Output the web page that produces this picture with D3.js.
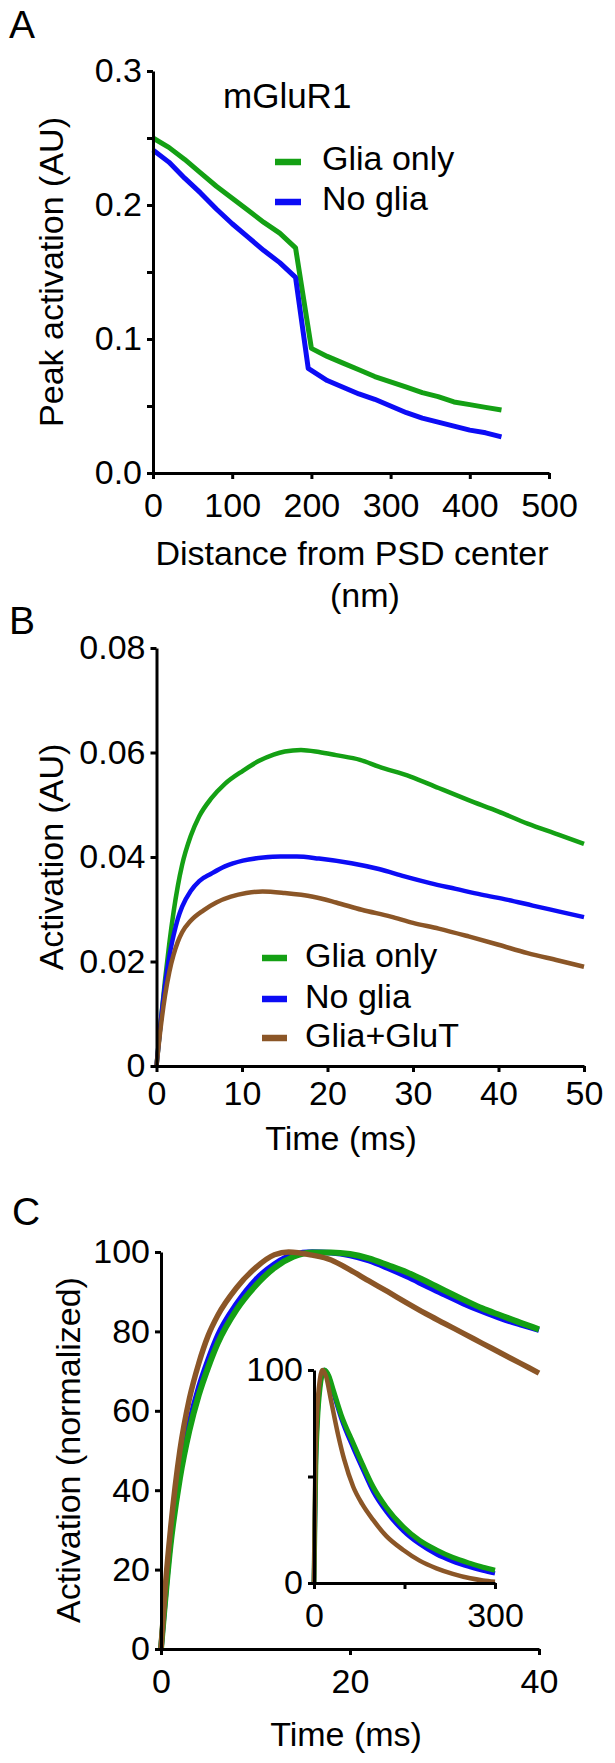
<!DOCTYPE html>
<html><head><meta charset="utf-8">
<script src="https://cdn.jsdelivr.net/npm/d3@7"></script>
<style>
body{margin:0;background:#fff}
svg{display:block}
text{font-family:"Liberation Sans",Arial,sans-serif;fill:#000}
</style>
</head><body>
<svg id="chart" width="615" height="1763"></svg>
<script>
// ---------- Panel A data ----------
const distA = [0,20,40,60,80,100,120,140,160,180,200,220,240,260,280,300,320,340,360,380,400,420,440];
const aGliaOnly = [0.250,0.243,0.234,0.224,0.214,0.205,0.196,0.187,0.179,0.168,0.093,0.087,0.082,0.077,0.072,0.068,0.064,0.060,0.057,0.053,0.051,0.049,0.047];
const distANoGlia = [0,20,40,60,80,100,120,140,160,180,196,220,240,260,280,300,320,340,360,380,400,420,440];
const aNoGlia  = [0.241,0.232,0.220,0.209,0.197,0.186,0.176,0.166,0.157,0.146,0.078,0.069,0.064,0.059,0.055,0.050,0.045,0.041,0.038,0.035,0.032,0.030,0.027];
const aYTicks = [0,0.05,0.1,0.15,0.2,0.25,0.3];
const aYLabels = ["0.0","","0.1","","0.2","","0.3"];
const aXTicks = [0,100,200,300,400,500];

// ---------- Panel B data ----------
const bTimeGlia = [0,0.5,1,1.5,2,2.5,3,4,5,6.4,8,10.1,12,13.7,15,16.9,19,21,23.8,26,29.7,33,36.5,40,43.4,47,50];
const bGliaOnly = [0,0.0085,0.0165,0.0235,0.0295,0.0345,0.0385,0.0440,0.0478,0.0512,0.0540,0.0565,0.0584,0.0596,0.0602,0.0605,0.0601,0.0595,0.0586,0.0573,0.0554,0.0532,0.0509,0.0487,0.0464,0.0443,0.0425];
const bTimeNoGlia = [0,0.5,1,1.5,2,2.5,3,4,5,6.4,8,10.1,12.5,14.5,16.4,19,22.8,26,29,32,35,38,41.1,44,47,50];
const bNoGlia = [0,0.0085,0.0155,0.0210,0.0250,0.0282,0.0305,0.0335,0.0354,0.0368,0.0382,0.0393,0.0399,0.0401,0.0401,0.0397,0.0388,0.0377,0.0363,0.0350,0.0339,0.0328,0.0318,0.0307,0.0296,0.0285];
const bTimeGluT = [0,0.5,1,1.5,2,2.5,3,4,5.5,7,8.7,10.5,12.4,15,18.3,21,24,27.4,30,33,36.5,40,43.4,47,50];
const bGliaGluT = [0,0.0075,0.0135,0.0180,0.0213,0.0238,0.0256,0.0278,0.0298,0.0313,0.0324,0.0331,0.0334,0.0331,0.0324,0.0313,0.0299,0.0286,0.0274,0.0263,0.0248,0.0232,0.0216,0.0202,0.0190];
const bYTicks = [0,0.02,0.04,0.06,0.08];
const bYLabels = ["0","0.02","0.04","0.06","0.08"];
const bXTicks = [0,10,20,30,40,50];

// ---------- Panel C data (normalized, main) ----------
const cTime = [0,1,2,3,4,5,6,8,10,12,14,16,18,20,22,24,26,28,30,32,34,36,38,40];
const cGliaOnly = [0,26,43,55,64,71,77,85.5,91.5,96,98.8,99.9,99.9,99.5,98.4,96.7,94.9,92.7,90.3,88,85.8,84,82.2,80.5];
const cNoGlia   = [0,27,45,57,66,73,79,87,93,97,99.4,100,99.8,99.1,97.8,95.9,93.8,91.5,89.2,87,85,83.2,81.7,80.3];
const cTimeGluT = [0,0.5,1,2,3,4,5,6,8,10,12,13.5,16,18,20,22,24,26,28,30,32,34,36,38,40];
const cGliaGluT = [0,17,30,50,63,72,79,84,91,96,99.3,100,99.2,98,95.5,92.7,90,87.2,84.5,82,79.5,77,74.5,72,69.5];
const cYTicks = [0,20,40,60,80,100];
const cXTicks = [0,20,40];

// ---------- Panel C inset ----------
const iTime = [0,3,6,10,17,25,32,45,65,80,98,120,148,175,203,230,259,280,300];
const iGliaOnly = [0,55,77,91.5,100,97,90.6,79,65.6,56,45.2,35.5,26.4,20,15.5,12,9.2,7.4,6];
const iNoGlia   = [0,57,79,93,100,96.5,89.5,77.5,63.5,54,43,33.5,24.5,18.3,13.5,10.2,7.5,5.8,4.5];
const iTimeGluT = [0,2,5,10,13.5,20,28,40,50,65,80,98,120,148,175,203,230,259,280,300];
const iGliaGluT = [0,50,79,96,100,97,86,69.5,58,45.2,37,29.6,22,15.5,10.5,6.9,4.3,2.2,1.2,0.6];
const iYTicks = [0,50,100];
const iYLabels = ["0","","100"];
const iXTicks = [0,150,300];
const iXLabels = ["0","","300"];

const legendNames = ["Glia only","No glia","Glia+GluT"];
const GREEN = "#14a014", BLUE = "#0c0cf5", BROWN = "#8b5627";

const svg = d3.select("#chart");
const FS = 34;

function styleAxis(g){
  g.selectAll("path.domain").attr("stroke","#000").attr("stroke-width",3);
  g.selectAll(".tick line").attr("stroke","#000").attr("stroke-width",3);
  g.selectAll(".tick text").attr("font-size",FS).attr("font-family","Liberation Sans, Arial, sans-serif").attr("fill","#000");
  g.attr("font-size",null).attr("font-family",null);
}
function yAxis(scale, x, ticks, labels){
  const ax = d3.axisLeft(scale).tickValues(ticks).tickSize(6).tickSizeOuter(0).tickPadding(5)
    .tickFormat((d,i)=>labels ? labels[i] : String(d));
  const g = svg.append("g").attr("transform",`translate(${x},0)`).call(ax);
  styleAxis(g);
  return g;
}
function xAxis(scale, y, ticks, labels, off){
  const ax = d3.axisBottom(scale).tickValues(ticks).tickSize(6).tickSizeOuter(0)
    .tickFormat((d,i)=>labels ? labels[i] : String(d));
  const g = svg.append("g").attr("transform",`translate(0,${y})`).call(ax);
  styleAxis(g);
  g.selectAll(".tick text").attr("y",off).attr("dy",0);
  return g;
}
function plotLine(xs, ys, xScale, yScale, color, w, curve){
  const pts = xs.map((t,i)=>[t,ys[i]]);
  const line = d3.line().x(d=>xScale(d[0])).y(d=>yScale(d[1])).curve(curve||d3.curveLinear);
  svg.append("path").datum(pts).attr("d",line).attr("fill","none")
    .attr("stroke",color).attr("stroke-width",w).attr("stroke-linejoin","round").attr("stroke-linecap","butt");
}
function text(x,y,str,size,anchor,rot){
  const t = svg.append("text").attr("font-size",size).attr("text-anchor",anchor||"start").text(str);
  if(rot) t.attr("transform",`translate(${x},${y}) rotate(${rot})`);
  else t.attr("x",x).attr("y",y);
  return t;
}
function legend(x0, x1, tx, rows, names, colors, dyText){
  rows.forEach((y,i)=>{
    svg.append("line").attr("x1",x0).attr("x2",x1).attr("y1",y).attr("y2",y)
      .attr("stroke",colors[i]).attr("stroke-width",6.5);
    text(tx, y+dyText, names[i], FS);
  });
}

// ================= Panel A =================
const xA = d3.scaleLinear().domain([0,500]).range([153,549]);
const yA = d3.scaleLinear().domain([0,0.3]).range([473,71]);
plotLine(distA, aGliaOnly, xA, yA, GREEN, 5);
plotLine(distANoGlia, aNoGlia, xA, yA, BLUE, 5);
yAxis(yA, 153, aYTicks, aYLabels);
xAxis(xA, 473, aXTicks, null, 44);
text(9, 38, "A", 39);
text(223, 108, "mGluR1", 35);
legend(275, 301, 322, [162,202], legendNames.slice(0,2), [GREEN,BLUE], 8);
text(62.5, 272, "Peak activation (AU)", FS, "middle", -90);
text(352, 565, "Distance from PSD center", FS, "middle");
text(365, 607, "(nm)", FS, "middle");

// ================= Panel B =================
const xB = d3.scaleLinear().domain([0,50]).range([156.5,584]);
const yB = d3.scaleLinear().domain([0,0.08]).range([1066,648]);
plotLine(bTimeGlia, bGliaOnly, xB, yB, GREEN, 4.5, d3.curveMonotoneX);
plotLine(bTimeNoGlia, bNoGlia, xB, yB, BLUE, 4.5, d3.curveMonotoneX);
plotLine(bTimeGluT, bGliaGluT, xB, yB, BROWN, 4.5, d3.curveMonotoneX);
yAxis(yB, 156.5, bYTicks, bYLabels);
xAxis(xB, 1066, bXTicks, null, 39);
text(9, 634, "B", 39);
legend(262, 287, 305, [958,999,1038], legendNames, [GREEN,BLUE,BROWN], 9);
text(62.5, 857, "Activation (AU)", FS, "middle", -90);
text(341, 1150, "Time (ms)", FS, "middle");

// ================= Panel C =================
const xC = d3.scaleLinear().domain([0,40]).range([161,539]);
const yC = d3.scaleLinear().domain([0,100]).range([1649,1252]);
plotLine(cTime, cNoGlia, xC, yC, BLUE, 5.5, d3.curveMonotoneX);
plotLine(cTime, cGliaOnly, xC, yC, GREEN, 6, d3.curveMonotoneX);
plotLine(cTimeGluT, cGliaGluT, xC, yC, BROWN, 5.5, d3.curveMonotoneX);
yAxis(yC, 161, cYTicks, null);
xAxis(xC, 1649, cXTicks, null, 44);
text(12, 1225, "C", 39);
text(80, 1450, "Activation (normalized)", FS, "middle", -90);
text(346, 1746, "Time (ms)", FS, "middle");

// inset
const xI = d3.scaleLinear().domain([0,300]).range([314,495]);
const yI = d3.scaleLinear().domain([0,100]).range([1583,1370]);
plotLine(iTime, iNoGlia, xI, yI, BLUE, 4.5, d3.curveMonotoneX);
plotLine(iTime, iGliaOnly, xI, yI, GREEN, 5, d3.curveMonotoneX);
plotLine(iTimeGluT, iGliaGluT, xI, yI, BROWN, 4.5, d3.curveMonotoneX);
yAxis(yI, 314, iYTicks, iYLabels);
xAxis(xI, 1583, iXTicks, iXLabels, 44);
</script>
</body></html>
